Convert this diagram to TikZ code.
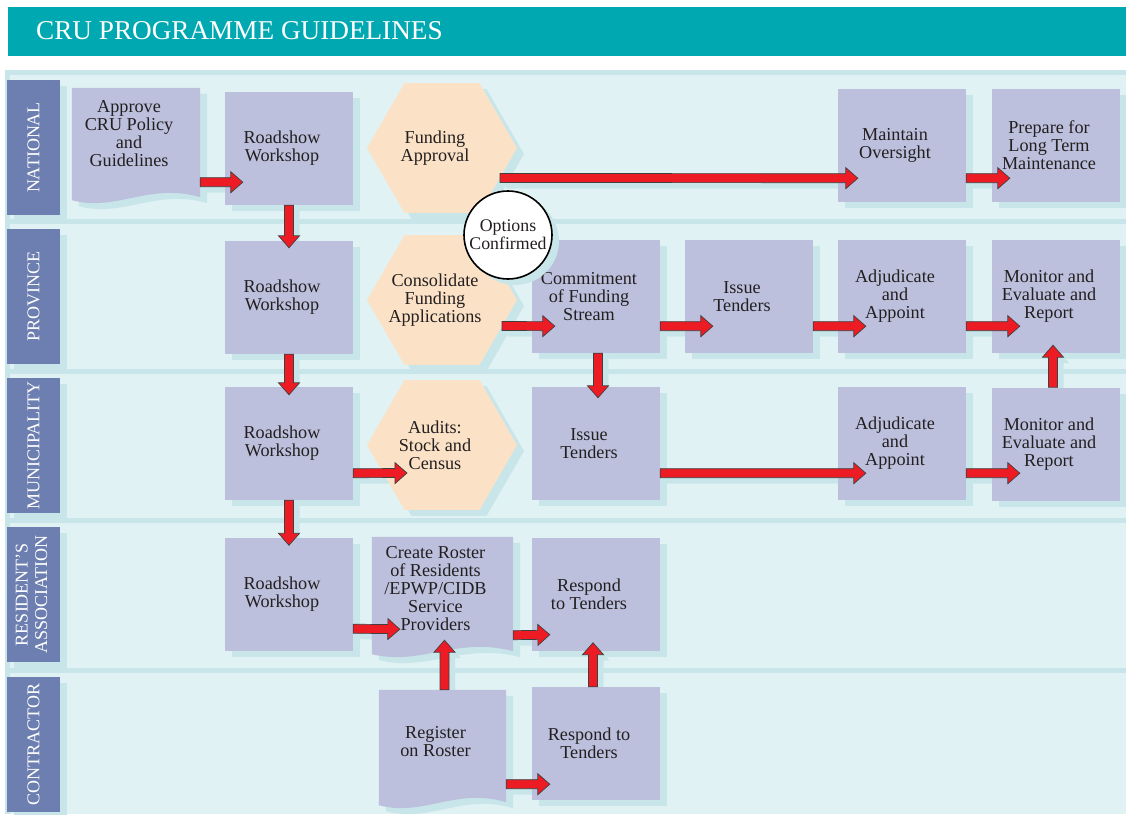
\documentclass[tikz,border=0pt]{standalone}
\usepackage{fontspec}
\usepackage{graphicx}
\setmainfont{Liberation Serif}
\usetikzlibrary{calc,shapes.geometric,shadows}

\definecolor{titlec}{HTML}{00A9B1}
\definecolor{lanec}{HTML}{E0F2F3}
\definecolor{stripc}{HTML}{C8E6EA}
\definecolor{labelc}{HTML}{6D7FB0}
\definecolor{boxc}{HTML}{BCC0DD}
\definecolor{hexc}{HTML}{FBE2C7}
\definecolor{arrc}{HTML}{ED1C24}
\definecolor{inkc}{HTML}{231F20}

\pgfdeclarelayer{bg}
\pgfdeclarelayer{shad}
\pgfdeclarelayer{docs}
\pgfdeclarelayer{front}
\pgfsetlayers{bg,shad,docs,main,front}

\tikzset{
  boxshadow/.style={drop shadow={shadow xshift=7pt,shadow yshift=-6pt,fill=stripc,opacity=1}},
  txt/.style={font=\fontsize{18.2}{18}\selectfont, text=inkc, align=center, inner sep=0pt},
  boxtext/.style={label={[txt,xshift=-7pt]center:{#1}}},
  taskbox/.style={fill=boxc, minimum width=128pt, minimum height=113pt, inner sep=0pt, boxshadow, boxtext={#1}},
  hexbox/.style={regular polygon, regular polygon sides=6, minimum size=150pt, inner sep=0pt, fill=hexc, boxshadow, boxtext={#1}},
  docbox/.style={minimum height=104pt, inner sep=0pt, boxtext={#1}},
  docfill/.style={fill=boxc, boxshadow},
  lanelabel/.style={fill=labelc, text=white, font=\fontsize{18}{19.5}\selectfont, minimum width=53pt, minimum height=135pt, inner sep=0pt, boxshadow},
  arrowbody/.style={fill=arrc, draw=black!75, line width=0.7pt, line join=miter},
  arrowshadow/.style={fill=stripc, transform canvas={shift={(6pt,-6pt)}}}
}

% outline of a block arrow from #1 to #2
\def\arrowpath#1#2{($(#1)!4.5pt!90:(#2)$) -- ($(#2)!12pt!(#1)!4.5pt!-90:(#1)$) -- ($(#2)!12pt!(#1)!10.5pt!-90:(#1)$) -- (#2) -- ($(#2)!12pt!(#1)!10.5pt!90:(#1)$) -- ($(#2)!12pt!(#1)!4.5pt!90:(#1)$) -- ($(#1)!4.5pt!-90:(#2)$) -- cycle}
\def\blockarrow(#1)(#2){%
  \begin{pgfonlayer}{shad}
    \fill[arrowshadow] \arrowpath{#1}{#2};
  \end{pgfonlayer}
  \begin{pgfonlayer}{front}
    \filldraw[arrowbody] \arrowpath{#1}{#2};
  \end{pgfonlayer}
}
% document shape behind node #1, wavy bottom #2 below its south side
\def\docshape#1#2{%
  \begin{pgfonlayer}{docs}
    \fill[docfill] (#1.north west) -- (#1.north east) -- ($(#1.south east)+(0,#2-3)$)
      .. controls ($(#1.south west)!0.6!(#1.south east)+(0,#2-18)$) and ($(#1.south west)!0.35!(#1.south east)+(0,#2+12)$) .. ($(#1.south west)+(0,#2)$) -- cycle;
  \end{pgfonlayer}
}

\begin{document}
\begin{tikzpicture}[x=1pt,y=-1pt]
\useasboundingbox (0,0) rectangle (1126,814);
\begin{pgfonlayer}{bg}
  \fill[white] (0,0) rectangle (1126,814);
  \fill[titlec] (8,7) rectangle (1126,56);
  \fill[stripc] (5,70) rectangle (1126,814);
  \foreach \top/\bot in {75/219,224/369,374/518,523/668,673/814}
    \fill[lanec] (10,\top) rectangle (1126,\bot);
\end{pgfonlayer}
\node[anchor=base west, text=white, font=\fontsize{27.2}{30}\selectfont, inner sep=0pt] (title) at (36,39) {CRU PROGRAMME GUIDELINES};

% lanes
\node[lanelabel] (laneN) at (33.5,147.5) {\rotatebox{90}{NATIONAL}};
\node[lanelabel] (laneP) at (33.5,296.5) {\rotatebox{90}{PROVINCE}};
\node[lanelabel] (laneM) at (33.5,445.5) {\rotatebox{90}{MUNICIPALITY}};
\node[lanelabel] (laneR) at (33.5,594.5) {\rotatebox{90}{\begin{tabular}{@{}c@{}}RESIDENT’S\\ASSOCIATION\end{tabular}}};
\node[lanelabel] (laneC) at (33.5,744.5) {\rotatebox{90}{CONTRACTOR}};

% national
\node[docbox={Approve\\CRU Policy\\and\\Guidelines}, minimum width=128pt, minimum height=92pt] (apN) at (136,134) {};
\docshape{apN}{20}
\node[taskbox={Roadshow\\Workshop}] (rsN) at (289,148.5) {};
\node[hexbox={Funding\\Approval}] (faN) at (442,148) {};
\node[taskbox={Maintain\\Oversight}] (moN) at (902,145) {};
\node[taskbox={Prepare for\\Long Term\\Maintenance}] (ltN) at (1056,145) {};

% province
\node[taskbox={Roadshow\\Workshop}] (rsP) at (289,297.5) {};
\node[hexbox={Consolidate\\Funding\\Applications}] (cfP) at (442,300) {};
\node[taskbox={Commitment\\of Funding\\Stream}] (csP) at (596,296.5) {};
\node[taskbox={Issue\\Tenders}] (itP) at (749,296.5) {};
\node[taskbox={Adjudicate\\and\\Appoint}] (adP) at (902,296.5) {};
\node[taskbox={Monitor and\\Evaluate and\\Report}] (meP) at (1056,296.5) {};

% municipality
\node[taskbox={Roadshow\\Workshop}] (rsM) at (289,443.5) {};
\node[hexbox={Audits:\\Stock and\\Census}] (auM) at (442,445) {};
\node[taskbox={Issue\\Tenders}] (itM) at (596,443.5) {};
\node[taskbox={Adjudicate\\and\\Appoint}] (adM) at (902,443.5) {};
\node[taskbox={Monitor and\\Evaluate and\\Report}] (meM) at (1056,444) {};

% residents
\node[taskbox={Roadshow\\Workshop}] (rsR) at (289,594) {};
\node[docbox={Create Roster\\of Residents\\/EPWP/CIDB\\Service\\Providers}, minimum width=141pt] (crR) at (442.5,589) {};
\docshape{crR}{13}
\node[taskbox={Respond\\to Tenders}] (rpR) at (596,594) {};

% contractor
\node[docbox={Register\\on Roster}, minimum width=127pt] (roC) at (442.5,742) {};
\docshape{roC}{11}
\node[taskbox={Respond to\\Tenders}] (rpC) at (596,743.5) {};

\node[txt, font=\fontsize{17.8}{18}\selectfont, circle, draw=black, line width=1.6pt, fill=white, minimum size=88pt, boxshadow] (opt) at (508,235) {Options\\Confirmed};

% flow
\blockarrow([yshift=-2pt]apN.south east)([xshift=18pt,yshift=23pt]rsN.south west)
\blockarrow(rsN.south)([yshift=-7pt]rsP.north)
\blockarrow(rsP.south)([yshift=-8pt]rsM.north)
\blockarrow(rsM.south)([yshift=-8pt]rsR.north)
\blockarrow([xshift=58pt,yshift=-30pt]faN.center)([xshift=20pt,yshift=23.5pt]moN.south west)
\blockarrow([yshift=23.5pt]moN.south east)([xshift=18pt,yshift=23.5pt]ltN.south west)
\blockarrow([xshift=60pt,yshift=-26pt]cfP.center)([xshift=23pt,yshift=27pt]csP.south west)
\blockarrow([xshift=2pt]csP.south)([xshift=2pt,yshift=-11pt]itM.north)
\blockarrow([yshift=27pt]csP.south east)([xshift=28pt,yshift=27pt]itP.south west)
\blockarrow([yshift=27pt]itP.south east)([xshift=28pt,yshift=27pt]adP.south west)
\blockarrow([yshift=27pt]adP.south east)([xshift=28pt,yshift=27pt]meP.south west)
\blockarrow([xshift=-3pt]meM.north)([xshift=-3pt,yshift=8pt]meP.south)
\blockarrow([yshift=27pt]rsM.south east)([xshift=-35pt,yshift=-28pt]auM.center)
\blockarrow([yshift=27pt]itM.south east)([xshift=28pt,yshift=27pt]adM.south west)
\blockarrow([yshift=27pt]adM.south east)([xshift=28pt,yshift=27.5pt]meM.south west)
\blockarrow([yshift=22pt]rsR.south east)([xshift=28pt,yshift=12pt]crR.south west)
\blockarrow([yshift=6pt]crR.south east)([xshift=18pt,yshift=16pt]rpR.south west)
\blockarrow([xshift=2pt]roC.north)([xshift=2pt,yshift=1pt]crR.south)
\blockarrow([yshift=10pt]roC.south east)([xshift=18pt,yshift=16pt]rpC.south west)
\blockarrow([xshift=-3pt]rpC.north)([xshift=-3pt,yshift=8pt]rpR.south)
\end{tikzpicture}
\end{document}
